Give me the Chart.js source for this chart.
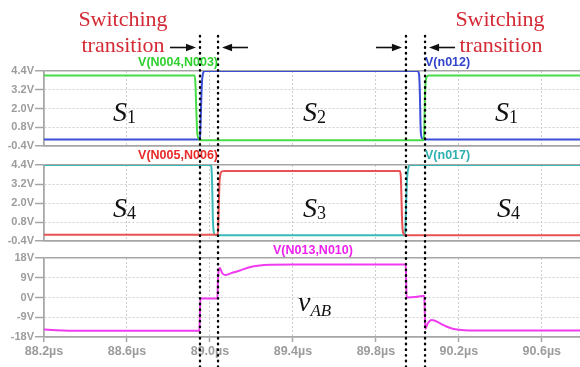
<!DOCTYPE html>
<html><head><meta charset="utf-8">
<script src="https://cdn.jsdelivr.net/npm/chart.js@4"></script>
<style>
html,body{margin:0;padding:0;background:#fff;}
#wrap{position:relative;width:580px;height:367px;overflow:hidden;background:#fff;}
canvas{position:absolute;left:0;top:0;}
.lbl{position:absolute;white-space:nowrap;line-height:1;}
.sw{font-family:"Liberation Serif","Times New Roman",serif;font-size:22px;color:#d42a35;width:110px;text-align:center;}
.st{font-family:"Liberation Serif","Times New Roman",serif;font-style:italic;font-size:28px;color:#111;}
.st sub{font-style:normal;font-size:18px;vertical-align:baseline;position:relative;top:2px;}
.st sub.it{font-style:italic;font-size:17px;top:5px;}
.tr{font-family:"Liberation Sans",Arial,sans-serif;font-weight:bold;font-size:12.5px;}
</style></head>
<body><div id="wrap">
<canvas id="c1" width="580" height="367"></canvas>
<canvas id="c2" width="580" height="367"></canvas>
<canvas id="c3" width="580" height="367"></canvas>
<canvas id="c4" width="580" height="367"></canvas>

<div class="lbl sw" style="left:68px;top:7.5px;">Switching</div>
<div class="lbl sw" style="left:68px;top:34px;">transition</div>
<div class="lbl sw" style="left:445px;top:7.5px;">Switching</div>
<div class="lbl sw" style="left:446px;top:34px;">transition</div>

<div class="lbl tr" style="right:362px;top:56px;color:#2ed02e;">V(N004,N003)</div>
<div class="lbl tr" style="left:425px;top:56px;color:#3344cc;">V(n012)</div>
<div class="lbl tr" style="right:362px;top:148.5px;color:#e82a2a;">V(N005,N006)</div>
<div class="lbl tr" style="left:425px;top:148.5px;color:#2fb0b0;">V(n017)</div>
<div class="lbl tr" style="left:273px;top:243.5px;color:#ee22ee;">V(N013,N010)</div>

<div class="lbl st" style="left:113px;top:97.5px;">S<sub>1</sub></div>
<div class="lbl st" style="left:303px;top:97.5px;">S<sub>2</sub></div>
<div class="lbl st" style="left:495px;top:97.5px;">S<sub>1</sub></div>
<div class="lbl st" style="left:113px;top:193.5px;">S<sub>4</sub></div>
<div class="lbl st" style="left:303px;top:193.5px;">S<sub>3</sub></div>
<div class="lbl st" style="left:497px;top:193.5px;">S<sub>4</sub></div>
<div class="lbl st" style="left:298px;top:288px;">v<sub class="it">AB</sub></div>
</div>
<script>
// ---- axes ----
const T0 = 88.2, T1 = 90.784;
const xTicks = [88.2, 88.6, 89.0, 89.4, 89.8, 90.2, 90.6];
const xTickLabels = ['88.2µs', '88.6µs', '89.0µs', '89.4µs', '89.8µs', '90.2µs', '90.6µs'];
const vTicks = [-0.4, 0.8, 2.0, 3.2, 4.4];
const vTickLabels = ['-0.4V', '0.8V', '2.0V', '3.2V', '4.4V'];
const abTicks = [-18, -9, 0, 9, 18];
const abTickLabels = ['-18V', '-9V', '0V', '9V', '18V'];
const switchTimes = [88.952, 89.039, 89.945, 90.037];

// ---- V(N004,N003) ----
const gT = [88.2, 88.926, 88.930, 88.934, 88.938, 88.944, 88.955, 90.029, 90.033, 90.036, 90.040, 90.046, 90.055, 90.784];
const gV = [4.12, 4.12, 3.6, 2.0, 0.6, 0.1, -0.03, -0.03, 0.5, 2.5, 3.7, 4.05, 4.12, 4.12];
// ---- V(n012) ----
const bT = [88.2, 88.950, 88.953, 88.957, 88.961, 88.966, 88.975, 90.000, 90.008, 90.012, 90.015, 90.018, 90.025, 90.035, 90.784];
const bV = [0.02, 0.02, 0.3, 2.0, 3.6, 4.2, 4.4, 4.4, 4.2, 3.0, 1.0, 0.3, 0.05, 0.02, 0.02];
// ---- V(n017) ----
const cT = [88.2, 89.004, 89.008, 89.011, 89.014, 89.017, 89.024, 89.035, 89.938, 89.942, 89.946, 89.950, 89.955, 89.965, 90.784];
const cV = [4.4, 4.4, 4.1, 3.0, 1.0, 0.3, 0.0, -0.04, -0.04, 0.3, 2.0, 3.5, 4.1, 4.4, 4.4];
// ---- V(N005,N006) ----
const rT = [88.2, 89.037, 89.040, 89.043, 89.046, 89.050, 89.058, 89.070, 89.915, 89.920, 89.923, 89.926, 89.930, 89.940, 90.784];
const rV = [0.0, 0.0, 0.5, 2.0, 3.3, 3.8, 4.0, 4.02, 4.02, 3.7, 2.5, 1.0, 0.2, -0.03, -0.03];
// ---- V(N013,N010) ----
const mT = [88.2, 88.26, 88.32, 88.40, 88.949, 88.9515, 88.954, 89.036, 89.0385, 89.048, 89.058, 89.073, 89.10, 89.145, 89.19, 89.24, 89.30, 89.40, 89.9440, 89.9460, 89.9480, 90.0, 90.033, 90.0355, 90.038, 90.050, 90.068, 90.085, 90.11, 90.14, 90.17, 90.20, 90.25, 90.784];
const mV = [-14.6, -14.9, -15.1, -15.2, -15.2, -8, -0.5, -0.5, 8, 13.5, 11.3, 10.2, 11.0, 12.3, 13.8, 14.6, 14.9, 15.0, 15.0, 7, 0.0, 0.3, 0.8, -6, -14.4, -11.8, -10.2, -10.6, -11.8, -13.2, -14.2, -14.7, -15.0, -15.0];

function pts(ts, vs) { return ts.map((t, i) => ({x: t, y: vs[i]})); }
function series(ts, vs, color) {
  return {data: pts(ts, vs), borderColor: color, borderWidth: 2, pointRadius: 0,
          cubicInterpolationMode: 'monotone', fill: false};
}

const GRID_SOLID = '#a6a6a6', GRID_DOT = '#cdcdcd', LABEL = '#9c9c9c';
const tickFont = {family: 'Liberation Sans', weight: 'bold', size: 11};

function panel(id, top, bottom, yMin, yMax, yTicks, yLabels, datasets, showX) {
  const xH = showX ? 30 : 0;
  const lastY = yTicks.length - 1;
  return new Chart(document.getElementById(id), {
    type: 'line',
    data: {datasets},
    options: {
      responsive: false, animation: false, events: [],
      layout: {padding: {left: 0, right: 0, top: top, bottom: 367 - bottom - xH}},
      plugins: {legend: {display: false}, tooltip: {enabled: false}},
      scales: {
        x: {
          type: 'linear', min: T0, max: T1,
          afterBuildTicks: s => { s.ticks = xTicks.map(v => ({value: v})); },
          afterFit: s => { s.height = xH; },
          ticks: {display: showX, autoSkip: false, maxRotation: 0, padding: 2,
                  color: LABEL, font: {family: 'Liberation Sans', weight: 'bold', size: 12.5},
                  callback: (v, i) => xTickLabels[i]},
          grid: {color: c => c.index === 0 ? GRID_SOLID : GRID_DOT,
                 lineWidth: c => c.index === 0 ? 1.5 : 1,
                 borderDash: c => c.index === 0 ? [] : [2, 2],
                 drawTicks: showX, tickLength: 5, tickColor: GRID_SOLID, tickWidth: 1.5},
          border: {display: true, color: GRID_SOLID, width: 1.5,
                   dash: c => (c.index === 0 || c.index === undefined) ? [] : [2, 2]}
        },
        y: {
          type: 'linear', min: yMin, max: yMax,
          afterBuildTicks: s => { s.ticks = yTicks.map(v => ({value: v})); },
          afterFit: s => { s.width = 44; },
          ticks: {padding: 1, color: LABEL, font: tickFont, callback: (v, i) => yLabels[i]},
          grid: {color: c => (c.index === 0 || c.index === lastY) ? GRID_SOLID : GRID_DOT,
                 lineWidth: c => (c.index === 0 || c.index === lastY) ? 1.5 : 1,
                 borderDash: c => (c.index === 0 || c.index === lastY) ? [] : [2, 2],
                 drawTicks: true, tickLength: 9, tickColor: GRID_SOLID, tickWidth: 1.5},
          border: {display: true, color: GRID_SOLID, width: 1.5,
                   dash: c => (c.index === undefined || c.index === 0 || c.index === lastY) ? [] : [2, 2]}
        }
      }
    }
  });
}

panel('c1', 71, 146, -0.4, 4.4, vTicks, vTickLabels,
      [series(gT, gV, '#48dc48'), series(bT, bV, '#3a4ed6')], false);
panel('c2', 165, 241, -0.4, 4.4, vTicks, vTickLabels,
      [series(rT, rV, '#e85252'), series(cT, cV, '#3cb8b8')], false);
panel('c3', 258, 337, -18, 18, abTicks, abTickLabels,
      [series(mT, mV, '#ef3cef')], true);

// ---- overlay: switching-instant dotted lines and arrows ----
const arrowPlugin = {
  id: 'arrows',
  afterDatasetsDraw(chart) {
    const ctx = chart.ctx, xs = chart.scales.x;
    const y = 47.5, len = 26, gap = 4;
    function arrow(xTip, dir) {
      const xTail = xTip - dir * len;
      ctx.save();
      ctx.strokeStyle = '#111'; ctx.fillStyle = '#111'; ctx.lineWidth = 1.6;
      ctx.beginPath(); ctx.moveTo(xTail, y); ctx.lineTo(xTip - dir * 6, y); ctx.stroke();
      ctx.beginPath(); ctx.moveTo(xTip, y); ctx.lineTo(xTip - dir * 10, y - 3.8);
      ctx.lineTo(xTip - dir * 10, y + 3.8); ctx.closePath(); ctx.fill();
      ctx.restore();
    }
    for (let k = 0; k < switchTimes.length; k += 2) {
      arrow(xs.getPixelForValue(switchTimes[k]) - gap, 1);
      arrow(xs.getPixelForValue(switchTimes[k + 1]) + gap, -1);
    }
  }
};

new Chart(document.getElementById('c4'), {
  type: 'line',
  data: {datasets: switchTimes.map(t => ({
    data: [{x: t, y: 0}, {x: t, y: 1}], borderColor: '#000', borderWidth: 2.4,
    borderDash: [0.5, 5.2], borderCapStyle: 'round', pointRadius: 0, clip: false
  }))},
  options: {
    responsive: false, animation: false, events: [],
    layout: {padding: {left: 44, right: 0, top: 35, bottom: 0}},
    plugins: {legend: {display: false}, tooltip: {enabled: false}},
    scales: {
      x: {type: 'linear', min: T0, max: T1, display: false},
      y: {type: 'linear', min: 0, max: 1, display: false}
    }
  },
  plugins: [arrowPlugin]
});
</script>
</body></html>
